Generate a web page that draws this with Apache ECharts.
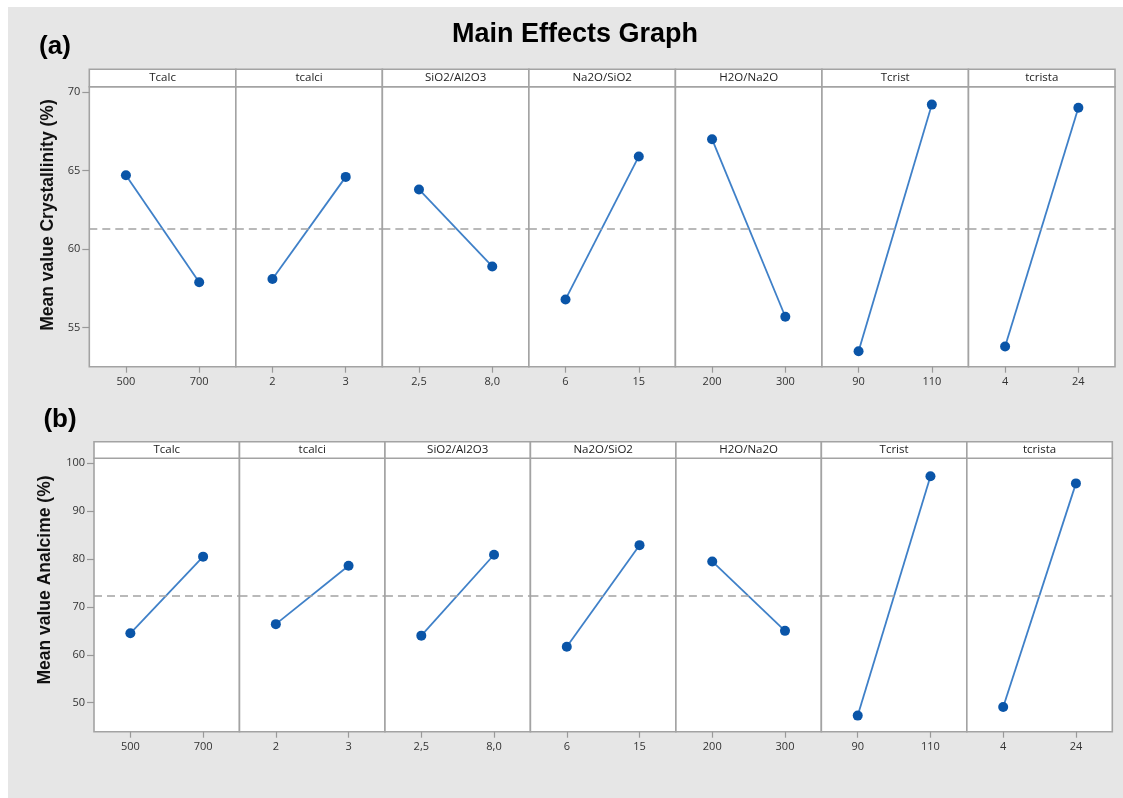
<!DOCTYPE html>
<html>
<head>
<meta charset="utf-8">
<script src="https://cdn.jsdelivr.net/npm/echarts@6/dist/echarts.min.js"></script>
<style>
html,body{margin:0;padding:0;background:#fff;}
#chart{width:1123px;height:798px;}
</style>
</head>
<body>
<div id="chart"></div>
<script>
// ---- data ----
const factors = ['Tcalc', 'tcalci', 'SiO2/Al2O3', 'Na2O/SiO2', 'H2O/Na2O', 'Tcrist', 'tcrista'];
const levelLabels = [['500', '700'], ['2', '3'], ['2,5', '8,0'], ['6', '15'], ['200', '300'], ['90', '110'], ['4', '24']];
const crystallinity = [[64.7, 57.9], [58.1, 64.6], [63.8, 58.9], [56.8, 65.9], [67.0, 55.7], [53.5, 69.2], [53.8, 69.0]];
const analcime = [[64.5, 80.5], [66.4, 78.6], [64.0, 80.9], [61.7, 82.9], [79.5, 65.0], [47.3, 97.3], [49.1, 95.8]];
const crystMean = 61.33;
const analMean = 72.4;
const crystTicks = [55, 60, 65, 70];
const analTicks = [50, 60, 70, 80, 90, 100];

// ---- layout ----
const rows = [
  { values: crystallinity, mean: crystMean, ticks: crystTicks, min: 52.52, max: 70.34,
    left: 89.3, right: 1115, headerTop: 69.3, plotTop: 86.7, plotBottom: 366.7,
    name: 'Mean value Crystallinity (%)', nameX: 48, nameY: 215, tag: '(a)', tagX: 55, tagY: 47 },
  { values: analcime, mean: analMean, ticks: analTicks, min: 43.94, max: 101.04,
    left: 94, right: 1112.3, headerTop: 441.7, plotTop: 458.3, plotBottom: 731.7,
    name: 'Mean value Analcime (%)', nameX: 45, nameY: 580, tag: '(b)', tagX: 60, tagY: 420 }
];

const GRID_BORDER = '#a3a3a3';
const grids = [], xAxes = [], yAxes = [], series = [];
const graphics = [
  { type: 'rect', shape: { x: 8, y: 7, width: 1115, height: 791 }, style: { fill: '#e6e6e6' }, z: -10 },
  { type: 'text', x: 575, y: 35, style: { text: 'Main Effects Graph', fontFamily: 'Liberation Sans', fontWeight: 'bold', fontSize: 27, fill: '#000', textAlign: 'center', textVerticalAlign: 'middle' } }
];

let idx = 0;
rows.forEach((row) => {
  const w = (row.right - row.left) / factors.length;
  graphics.push({ type: 'text', x: row.tagX, y: row.tagY, style: { text: row.tag, fontFamily: 'Liberation Sans', fontWeight: 'bold', fontSize: 26, fill: '#000', textAlign: 'center', textVerticalAlign: 'middle' } });
  graphics.push({ type: 'text', x: row.nameX, y: row.nameY, rotation: Math.PI / 2, style: { text: row.name, fontFamily: 'Liberation Sans', fontWeight: 'bold', fontSize: 17.5, fill: '#111', textAlign: 'center', textVerticalAlign: 'middle' } });
  factors.forEach((f, i) => {
    const x = row.left + i * w;
    grids.push({ left: x, top: row.plotTop, width: w, height: row.plotBottom - row.plotTop,
      show: true, backgroundColor: '#fff', borderColor: GRID_BORDER, borderWidth: 1.6,
      containLabel: false, outerBoundsMode: 'none' });
    graphics.push({ type: 'rect', shape: { x: x, y: row.headerTop, width: w, height: row.plotTop - row.headerTop },
      style: { fill: '#fff', stroke: GRID_BORDER, lineWidth: 1.6 } });
    graphics.push({ type: 'text', x: x + w / 2, y: (row.headerTop + row.plotTop) / 2,
      style: { text: f, fontFamily: 'Open Sans', fontSize: 11.5, fill: '#222', textAlign: 'center', textVerticalAlign: 'middle' } });
    xAxes.push({ type: 'category', gridIndex: idx, data: levelLabels[i], boundaryGap: true,
      axisLine: { show: false },
      axisTick: { show: true, alignWithLabel: true, interval: 0, length: 6, lineStyle: { color: '#999', width: 1.2 } },
      axisLabel: { interval: 0, margin: 10, fontSize: 11, fontFamily: 'Open Sans', color: '#333' },
      splitLine: { show: false } });
    const first = i === 0;
    yAxes.push({ type: 'value', gridIndex: idx, min: row.min, max: row.max,
      axisLine: { show: false },
      splitLine: { show: false },
      axisTick: { show: first, length: 7, customValues: row.ticks, lineStyle: { color: '#999', width: 1.2 } },
      axisLabel: { show: first, customValues: row.ticks, margin: 9, fontSize: 11, fontFamily: 'Open Sans', color: '#333' } });
    series.push({ type: 'line', xAxisIndex: idx, yAxisIndex: idx, data: row.values[i],
      symbol: 'circle', symbolSize: 10, silent: true,
      itemStyle: { color: '#0a55a8' },
      lineStyle: { color: '#3f80c8', width: 1.8 },
      markLine: { silent: true, symbol: ['none', 'none'], label: { show: false },
        lineStyle: { color: '#a3a3a3', type: [8, 5], width: 1.5 },
        data: [{ yAxis: row.mean }] },
      z: 3 });
    idx++;
  });
});

const chart = echarts.init(document.getElementById('chart'), null, { renderer: 'canvas' });
chart.setOption({
  animation: false,
  backgroundColor: '#fff',
  grid: grids,
  xAxis: xAxes,
  yAxis: yAxes,
  series: series,
  graphic: graphics
});
</script>
</body>
</html>
